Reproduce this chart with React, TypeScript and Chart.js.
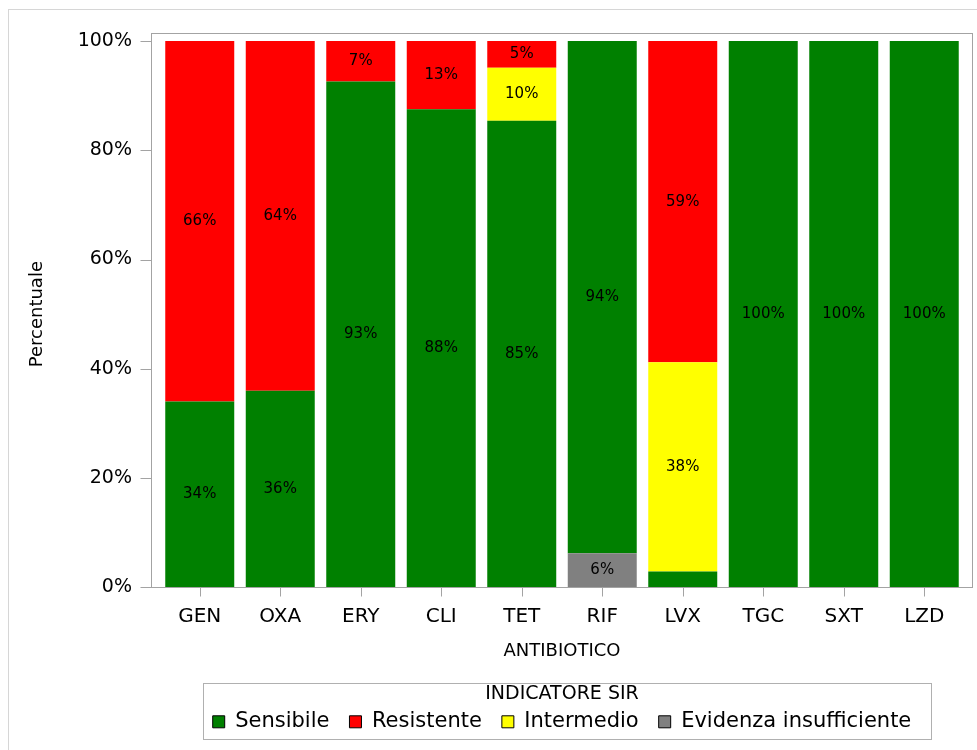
import React, { useEffect, useRef } from 'react';
import { Chart, registerables } from 'chart.js';

Chart.register(...registerables);

const categories = ['GEN', 'OXA', 'ERY', 'CLI', 'TET', 'RIF', 'LVX', 'TGC', 'SXT', 'LZD'];
const sensibile = [34, 36, 92.6, 87.5, 85.4, 93.75, 2.9, 100, 100, 100];
const resistente = [66, 64, 7.4, 12.5, 4.9, 0, 58.8, 0, 0, 0];
const intermedio = [0, 0, 0, 0, 9.7, 0, 38.3, 0, 0, 0];
const evidenza = [0, 0, 0, 0, 0, 6.25, 0, 0, 0, 0];
const yTicks = [0, 20, 40, 60, 80, 100];
const legendOrder = ['Sensibile', 'Resistente', 'Intermedio', 'Evidenza insufficiente'];

const FONT = '"DejaVu Sans", sans-serif';

export default function App() {
  const ref = useRef<HTMLCanvasElement>(null);

  useEffect(() => {
    if (!ref.current) return;

    const framePlugin = {
      id: 'framePlugin',
      afterDatasetsDraw(chart: any) {
        const { ctx, chartArea: a, scales } = chart;
        ctx.save();
        // segment labels
        ctx.font = '15px ' + FONT;
        ctx.fillStyle = '#000';
        ctx.textAlign = 'center';
        ctx.textBaseline = 'middle';
        chart.data.datasets.forEach((ds: any, i: number) => {
          const meta = chart.getDatasetMeta(i);
          meta.data.forEach((bar: any, j: number) => {
            const v = ds.data[j];
            if (v >= 4) {
              const p = bar.getProps(['x', 'y', 'base'], true);
              ctx.fillText(Math.round(v) + '%', p.x, (p.y + p.base) / 2);
            }
          });
        });
        // plot frame
        const L = Math.floor(a.left - 8.5) + 0.5;
        const R = Math.floor(a.right + 7.5) + 0.5;
        const T = Math.floor(a.top - 8) + 0.5;
        const B = Math.floor(a.bottom) + 0.5;
        ctx.strokeStyle = '#a3a3a3';
        ctx.lineWidth = 1;
        ctx.strokeRect(L, T, R - L, B - T);
        ctx.beginPath();
        yTicks.forEach((t) => {
          const py = Math.round(scales.y.getPixelForValue(t)) + 0.5;
          ctx.moveTo(L - 11, py);
          ctx.lineTo(L, py);
        });
        categories.forEach((_, i) => {
          const px = Math.round(scales.x.getPixelForValue(i)) + 0.5;
          ctx.moveTo(px, B);
          ctx.lineTo(px, B + 9);
        });
        ctx.stroke();
        ctx.restore();
      },
      afterDraw(chart: any) {
        const lg = chart.legend;
        if (!lg || !lg.legendHitBoxes || !lg.legendHitBoxes.length) return;
        const hb = lg.legendHitBoxes;
        let minL = Infinity;
        let maxR = -Infinity;
        hb.forEach((h: any) => {
          minL = Math.min(minL, h.left);
          maxR = Math.max(maxR, h.left + h.width);
        });
        const ctx = chart.ctx;
        ctx.save();
        ctx.strokeStyle = '#b0b0b0';
        ctx.lineWidth = 1;
        const L = Math.floor(minL - 9) + 0.5;
        const R = Math.floor(maxR + 20) + 0.5;
        const T = Math.floor(lg.top - 1.5) + 0.5;
        const B = Math.floor(lg.top + 54.5) + 0.5;
        ctx.strokeRect(L, T, R - L, B - T);
        ctx.restore();
      },
    };

    const chart = new Chart(ref.current, {
      type: 'bar',
      data: {
        labels: categories,
        datasets: [
          { label: 'Evidenza insufficiente', data: evidenza, backgroundColor: '#808080' },
          { label: 'Sensibile', data: sensibile, backgroundColor: '#008000' },
          { label: 'Intermedio', data: intermedio, backgroundColor: '#ffff00' },
          { label: 'Resistente', data: resistente, backgroundColor: '#ff0000' },
        ],
      },
      options: {
        responsive: false,
        animation: false,
        datasets: {
          bar: { barPercentage: 0.857, categoryPercentage: 1, borderWidth: 0 },
        },
        layout: { padding: { left: 0, right: 12.5, top: 31, bottom: 7.7 } },
        scales: {
          x: {
            stacked: true,
            grid: { display: false, drawTicks: false },
            border: { display: false },
            ticks: {
              autoSkip: false,
              maxRotation: 0,
              padding: 17,
              color: '#000',
              font: { family: FONT, size: 20 },
            },
            title: {
              display: true,
              text: 'ANTIBIOTICO',
              color: '#000',
              font: { family: FONT, size: 18 },
              padding: { top: 0, bottom: 22.2 },
            },
            afterFit(scale: any) {
              scale.height = 97.5;
            },
          },
          y: {
            stacked: true,
            min: 0,
            max: 100,
            grid: { display: false, drawTicks: true, tickLength: 27.5 },
            border: { display: false },
            ticks: {
              stepSize: 20,
              padding: 0,
              color: '#000',
              font: { family: FONT, size: 19 },
              callback: (v: any) => v + '%',
            },
            title: {
              display: true,
              text: 'Percentuale',
              color: '#000',
              font: { family: FONT, size: 18 },
              padding: { top: 17.2, bottom: 0 },
            },
            afterFit(scale: any) {
              scale.width = 150.5;
            },
          },
        },
        plugins: {
          tooltip: { enabled: false },
          legend: {
            position: 'bottom',
            fullSize: false,
            title: {
              display: true,
              text: 'INDICATORE SIR',
              color: '#000',
              font: { family: FONT, size: 19 },
              padding: { top: 0, bottom: -16.3 },
            },
            labels: {
              boxWidth: 12,
              boxHeight: 12,
              padding: 20,
              color: '#000',
              font: { family: FONT, size: 21 },
              generateLabels: (ch: any) => {
                const items = Chart.defaults.plugins.legend.labels.generateLabels(ch);
                return items.map((it: any) => ({ ...it, strokeStyle: '#000', lineWidth: 1 }));
              },
              sort: (a: any, b: any) => legendOrder.indexOf(a.text) - legendOrder.indexOf(b.text),
            },
          },
        },
      },
      plugins: [framePlugin],
    } as any);

    return () => chart.destroy();
  }, []);

  return (
    <div style={{ position: 'absolute', left: 0, top: 0, width: 977, height: 750, overflow: 'hidden', background: '#fff' }}>
      <div
        style={{
          position: 'absolute',
          left: 8,
          top: 9,
          width: 1000,
          height: 800,
          borderLeft: '1px solid #d6d6d6',
          borderTop: '1px solid #d6d6d6',
        }}
      />
      <canvas
        ref={ref}
        width={968}
        height={740}
        style={{ position: 'absolute', left: 9, top: 10, width: 968, height: 740 }}
      />
    </div>
  );
}
